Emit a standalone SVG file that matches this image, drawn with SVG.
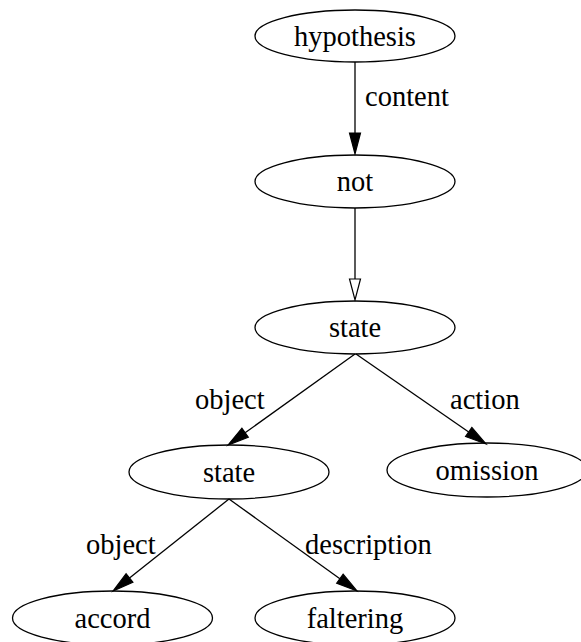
<svg xmlns="http://www.w3.org/2000/svg" width="581" height="642" viewBox="0 0 581 642">
<style>
.n ellipse{fill:none;stroke:#000;stroke-width:1.3}
.n text{font-family:"Liberation Serif","Times New Roman",serif;font-size:28.5px;text-anchor:middle;fill:#000}
.e line{stroke:#000;stroke-width:1.3}
.lbl{font-family:"Liberation Serif","Times New Roman",serif;font-size:28.5px;fill:#000}
</style>
<defs>
<marker id="af" markerUnits="userSpaceOnUse" markerWidth="24" markerHeight="14" refX="0" refY="6" orient="auto" viewBox="0 0 24 12" overflow="visible">
<path d="M0,0.5 L21,6 L0,11.5 Z" fill="#000" stroke="#000" stroke-width="1.2"/>
</marker>
<marker id="ao" markerUnits="userSpaceOnUse" markerWidth="24" markerHeight="14" refX="0" refY="6" orient="auto" viewBox="0 0 24 12" overflow="visible">
<path d="M0,0.5 L21,6 L0,11.5 Z" fill="#fff" stroke="#000" stroke-width="1.2"/>
</marker>
</defs>
<rect width="581" height="642" fill="#fff"/>
<g id="connectors" class="e">
<line x1="355" y1="62" x2="355" y2="133" marker-end="url(#af)"/>
<line x1="355" y1="208" x2="355" y2="279" marker-end="url(#ao)"/>
<line x1="355" y1="354" x2="245.1" y2="432.8" marker-end="url(#af)"/>
<line x1="356" y1="354" x2="468.7" y2="432.0" marker-end="url(#af)"/>
<line x1="229" y1="499" x2="129.5" y2="578.0" marker-end="url(#af)"/>
<line x1="229" y1="499" x2="339.9" y2="578.7" marker-end="url(#af)"/>
<text class="lbl" x="365" y="106">content</text>
<text class="lbl" x="195" y="409">object</text>
<text class="lbl" x="450" y="409">action</text>
<text class="lbl" x="86" y="554">object</text>
<text class="lbl" x="305" y="554">description</text>
</g>
<g id="hypothesis" class="n"><ellipse cx="355" cy="36" rx="100" ry="26"/><text x="355" y="45.5">hypothesis</text></g>
<g id="not" class="n"><ellipse cx="355" cy="181.5" rx="100" ry="26.5"/><text x="355" y="191">not</text></g>
<g id="state1" class="n"><ellipse cx="355" cy="327.5" rx="100" ry="26.5"/><text x="355" y="337">state</text></g>
<g id="state2" class="n"><ellipse cx="229" cy="472" rx="100" ry="27"/><text x="229" y="481.5">state</text></g>
<g id="omission" class="n"><ellipse cx="487" cy="470" rx="100" ry="27"/><text x="487" y="479.5">omission</text></g>
<g id="accord" class="n"><ellipse cx="112.5" cy="618" rx="100" ry="27"/><text x="112.5" y="627.5">accord</text></g>
<g id="faltering" class="n"><ellipse cx="355" cy="618" rx="100" ry="27"/><text x="355" y="627.5">faltering</text></g>
</svg>
